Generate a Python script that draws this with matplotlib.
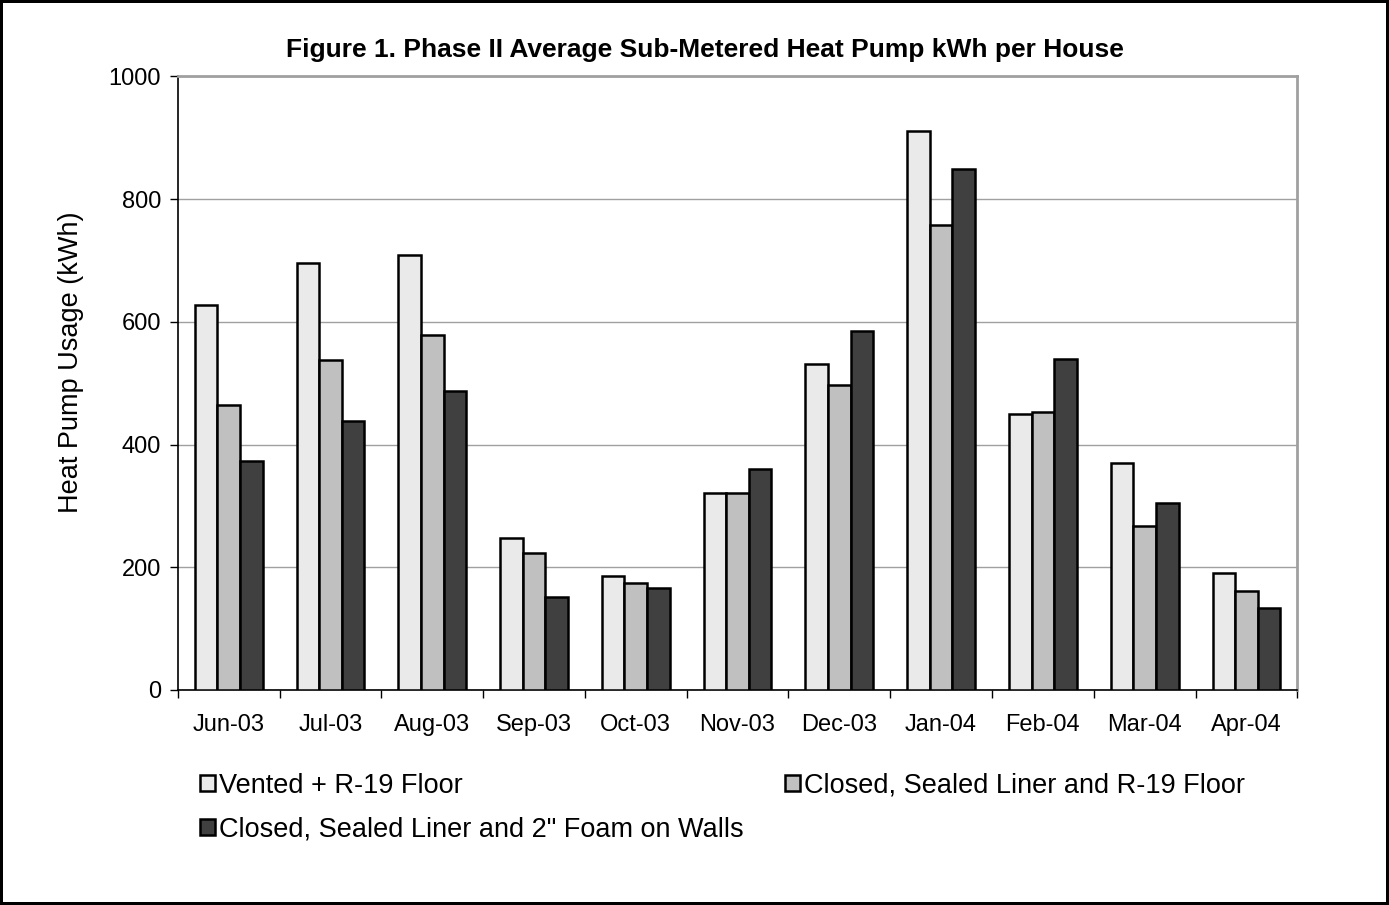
import numpy as np
import matplotlib
matplotlib.use('Agg')
import matplotlib.pyplot as plt
from matplotlib.ticker import FixedLocator, NullFormatter

plt.rcParams['font.family'] = ['Liberation Sans', 'DejaVu Sans']

months = ['Jun-03', 'Jul-03', 'Aug-03', 'Sep-03', 'Oct-03', 'Nov-03',
          'Dec-03', 'Jan-04', 'Feb-04', 'Mar-04', 'Apr-04']

vented = [627, 696, 709, 247, 186, 321, 532, 911, 449, 370, 191]
closed_r19 = [465, 537, 579, 224, 174, 321, 497, 758, 453, 268, 161]
closed_foam = [373, 438, 487, 151, 166, 360, 585, 849, 540, 304, 134]

labels = ['Vented + R-19 Floor',
          'Closed, Sealed Liner and R-19 Floor',
          'Closed, Sealed Liner and 2" Foam on Walls']
colors = ['#EAEAEA', '#C0C0C0', '#404040']

fig = plt.figure(figsize=(13.89, 9.05), dpi=100)
fig.patch.set_edgecolor('black')
fig.patch.set_linewidth(3)
ax = fig.add_axes([0.128, 0.2376, 0.806, 0.678])

x = np.arange(len(months))
w = 0.222
bars = []
for k, (vals, c, lab) in enumerate(zip([vented, closed_r19, closed_foam], colors, labels)):
    b = ax.bar(x + (k - 1) * w, vals, w, color=c, edgecolor='black',
               linewidth=1.8, label=lab, zorder=3)
    bars.append(b)

ax.set_xlim(-0.5, len(months) - 0.5)
ax.set_ylim(0, 1000)
ax.set_yticks(np.arange(0, 1001, 200))
ax.yaxis.grid(True, color='#A0A0A0', linewidth=1)
ax.set_axisbelow(True)

ax.set_xticks(x)
ax.set_xticklabels(months)
ax.tick_params(axis='x', which='major', length=0, pad=17, labelsize=17)
ax.xaxis.set_minor_locator(FixedLocator(np.arange(-0.5, len(months), 1)))
ax.xaxis.set_minor_formatter(NullFormatter())
ax.tick_params(axis='x', which='minor', length=6, width=1, direction='out')
ax.tick_params(axis='y', length=6, width=1, direction='out', labelsize=17, pad=6)

for s in ['top', 'right']:
    ax.spines[s].set_color('#A0A0A0')
    ax.spines[s].set_linewidth(2)
ax.spines['left'].set_linewidth(1.2)
ax.spines['bottom'].set_linewidth(1.2)

ax.set_ylabel('Heat Pump Usage (kWh)', fontsize=19.5)
ax.yaxis.set_label_coords(-0.084, 0.534)
fig.text(0.5076, 0.945, 'Figure 1. Phase II Average Sub-Metered Heat Pump kWh per House',
         ha='center', va='center', fontsize=19, fontweight='bold')

handles = [bars[0], bars[2], bars[1]]
leg_labels = [labels[0], labels[2], labels[1]]
fig.legend(handles, leg_labels, ncol=2, loc='upper left',
           bbox_to_anchor=(0.136, 0.158), frameon=False, fontsize=19.5,
           handlelength=0.55, handleheight=0.55, handletextpad=0.15,
           columnspacing=1.55, labelspacing=0.65, borderaxespad=0)

plt.savefig('out.png', dpi=100, edgecolor=fig.get_edgecolor())
